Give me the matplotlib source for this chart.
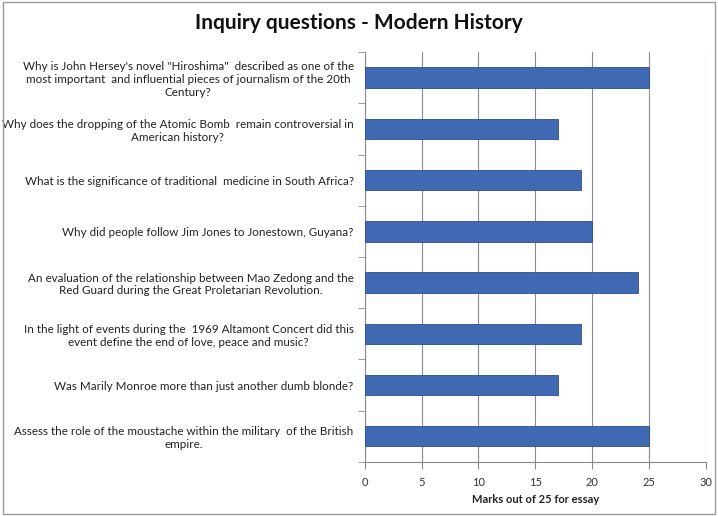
import matplotlib
matplotlib.use("Agg")
import matplotlib.pyplot as plt
import numpy as np
from matplotlib.patches import Rectangle

questions = [
    'Why is John Hersey\'s novel "Hiroshima"  described as one of the\nmost important  and influential pieces of journalism of the 20th\nCentury?',
    'Why does the dropping of the Atomic Bomb  remain controversial in\nAmerican history?',
    'What is the significance of traditional  medicine in South Africa?',
    'Why did people follow Jim Jones to Jonestown, Guyana?',
    'An evaluation of the relationship between Mao Zedong and the\nRed Guard during the Great Proletarian Revolution.',
    'In the light of events during the  1969 Altamont Concert did this\nevent define the end of love, peace and music?',
    'Was Marily Monroe more than just another dumb blonde?',
    'Assess the role of the moustache within the military  of the British\nempire.',
]
marks = [25, 17, 19, 20, 24, 19, 17, 25]
xticks = [0, 5, 10, 15, 20, 25, 30]

plt.rcParams['font.family'] = ['Lato', 'DejaVu Sans']

fig = plt.figure(figsize=(7.18, 5.16), dpi=100)
ax = fig.add_axes([0.508, 0.105, 0.475, 0.794])

# cadre autour du graphique
fig.patches.append(Rectangle((0.004, 0.004), 0.992, 0.992, transform=fig.transFigure,
                             fill=False, edgecolor='#9a9a9a', linewidth=1.0))

pos = np.arange(len(questions))
ax.barh(pos, marks, height=0.4, color='#4069b3', edgecolor='#2d4f8e', linewidth=0.6, zorder=3)

ax.set_xlim(0, 30)
ax.set_ylim(len(questions) - 0.5, -0.5)
ax.set_xticks(xticks)
ax.set_xticklabels([str(t) for t in xticks], fontsize=8, color='#333333')
ax.grid(axis='x', color='#8a8a8a', linewidth=0.8, zorder=0)

ax.set_yticks(pos)
ax.set_yticklabels(questions, fontsize=8.4, color='#222222', linespacing=1.2)
for lab in ax.get_yticklabels():
    lab.set_multialignment('center')
ax.tick_params(axis='y', which='major', length=0, pad=8)
ax.set_yticks(np.arange(-0.5, len(questions), 1), minor=True)
ax.tick_params(axis='y', which='minor', length=5, color='#8a8a8a')
ax.tick_params(axis='x', length=5, color='#8a8a8a', pad=6)

for side in ['top', 'right']:
    ax.spines[side].set_visible(False)
for side in ['left', 'bottom']:
    ax.spines[side].set_color('#8a8a8a')

ax.set_xlabel('Marks out of 25 for essay', fontsize=8, fontweight='bold', color='#222222', labelpad=4)
fig.text(0.5, 0.955, 'Inquiry questions - Modern History', ha='center', va='center',
         fontsize=15, fontweight='bold', color='#111111')

fig.savefig('out.png', dpi=100)
